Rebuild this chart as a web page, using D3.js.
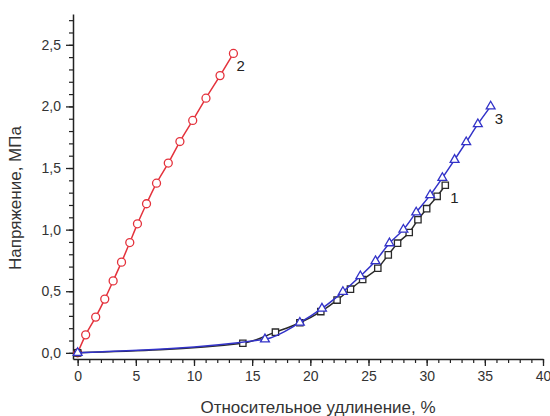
<!DOCTYPE html>
<html>
<head>
<meta charset="utf-8">
<script src="https://cdn.jsdelivr.net/npm/d3@7"></script>
<style>
  body { margin: 0; background: #fff; }
  svg { display: block; font-family: "Liberation Sans", Arial, sans-serif; }
</style>
</head>
<body>
<div id="chart"></div>
<script>
// Curve 2 (red circles)
const x2 = [0, 0.69, 1.55, 2.33, 3.05, 3.77, 4.48, 5.14, 5.92, 6.78, 7.79, 8.79, 9.89, 11.03, 12.24, 13.39];
const y2 = [0, 0.146, 0.29, 0.436, 0.584, 0.736, 0.895, 1.047, 1.21, 1.377, 1.54, 1.715, 1.886, 2.067, 2.25, 2.43];
// Curve 1 (black squares)
const x1 = [0, 14.2, 17.0, 19.1, 20.9, 22.3, 23.45, 24.5, 25.8, 26.7, 27.5, 28.5, 29.25, 30.0, 30.9, 31.6];
const y1 = [0, 0.078, 0.168, 0.244, 0.335, 0.428, 0.517, 0.595, 0.687, 0.795, 0.89, 0.977, 1.08, 1.17, 1.27, 1.36];
// Curve 3 (blue triangles)
const x3 = [0, 16.1, 19.1, 21.0, 22.8, 24.3, 25.6, 26.8, 28.0, 29.1, 30.3, 31.35, 32.4, 33.4, 34.4, 35.5];
const y3 = [0, 0.11, 0.245, 0.36, 0.495, 0.623, 0.745, 0.89, 1.0, 1.14, 1.28, 1.42, 1.567, 1.71, 1.856, 2.0];

const xTicks = [0, 5, 10, 15, 20, 25, 30, 35, 40];
const yTicks = [0, 0.5, 1.0, 1.5, 2.0, 2.5];
const xTitle = 'Относительное удлинение, %';
const yTitle = 'Напряжение, МПа';

const width = 550, height = 416;
const svg = d3.select('#chart').append('svg')
  .attr('width', width)
  .attr('height', height);

const x = d3.scaleLinear().domain([-0.4, 40]).range([73, 543]);
const y = d3.scaleLinear().domain([-0.05, 2.75]).range([359, 14]);

const ru = d3.formatLocale({decimal: ',', thousands: ' ', grouping: [3], currency: ['', '']});
const fmt = ru.format('.1f');

// minor ticks
svg.append('g')
  .attr('transform', `translate(0,${y(-0.05)})`)
  .call(d3.axisBottom(x).tickValues(d3.range(0, 41, 1)).tickSize(4).tickFormat(''))
  .call(g => g.select('.domain').remove())
  .call(g => g.selectAll('line').attr('stroke', '#222').attr('stroke-width', 1.2));
svg.append('g')
  .attr('transform', `translate(${x(-0.4)},0)`)
  .call(d3.axisLeft(y).tickValues(d3.range(0, 28).map(d => d / 10)).tickSize(4).tickFormat(''))
  .call(g => g.select('.domain').remove())
  .call(g => g.selectAll('line').attr('stroke', '#222').attr('stroke-width', 1.2));

// major ticks + axis lines
const xAxis = svg.append('g')
  .attr('transform', `translate(0,${y(-0.05)})`)
  .call(d3.axisBottom(x).tickValues(xTicks).tickSize(7).tickSizeOuter(0).tickPadding(5));
const yAxis = svg.append('g')
  .attr('transform', `translate(${x(-0.4)},0)`)
  .call(d3.axisLeft(y).tickValues(yTicks).tickSize(7).tickSizeOuter(0).tickPadding(5).tickFormat(fmt));

[xAxis, yAxis].forEach(g => {
  g.select('.domain').attr('stroke', '#222').attr('stroke-width', 1.5);
  g.selectAll('line').attr('stroke', '#222').attr('stroke-width', 1.3);
  g.selectAll('text').attr('fill', '#333').style('font-size', '14px')
    .style('font-family', '"Liberation Sans", Arial, sans-serif');
});

// axis titles
svg.append('text')
  .attr('x', 318)
  .attr('y', 413)
  .attr('text-anchor', 'middle')
  .attr('fill', '#333')
  .style('font-size', '17px')
  .text(xTitle);
svg.append('text')
  .attr('transform', 'rotate(-90)')
  .attr('x', -198)
  .attr('y', 21)
  .attr('text-anchor', 'middle')
  .attr('fill', '#333')
  .style('font-size', '17px')
  .text(yTitle);

const line = d3.line()
  .x(d => x(d[0]))
  .y(d => y(d[1]))
  .curve(d3.curveMonotoneX);

function series(xs, ys, color, shape, label, dx, dy) {
  const data = xs.map((v, i) => [v, ys[i]]);
  const g = svg.append('g');
  g.append('path')
    .datum(data)
    .attr('fill', 'none')
    .attr('stroke', color)
    .attr('stroke-width', 1.5)
    .attr('d', line);
  const sym = d3.symbol().type(shape.type).size(shape.size);
  g.selectAll('path.pt')
    .data(data)
    .join('path')
      .attr('class', 'pt')
      .attr('transform', d => `translate(${x(d[0])},${y(d[1])})`)
      .attr('d', sym)
      .attr('fill', '#fff')
      .attr('stroke', color)
      .attr('stroke-width', 1.3);
  const last = data[data.length - 1];
  g.append('text')
    .attr('x', x(last[0]) + dx)
    .attr('y', y(last[1]) + dy)
    .attr('fill', '#222')
    .style('font-size', '15px')
    .text(label);
}

series(x2, y2, '#e4323c', {type: d3.symbolCircle, size: 50}, '2', 3, 18);
series(x1, y1, '#2a2a2a', {type: d3.symbolSquare, size: 40}, '1', 5, 18);
series(x3, y3, '#3232c8', {type: d3.symbolTriangle, size: 34}, '3', 4, 18);
</script>
</body>
</html>
